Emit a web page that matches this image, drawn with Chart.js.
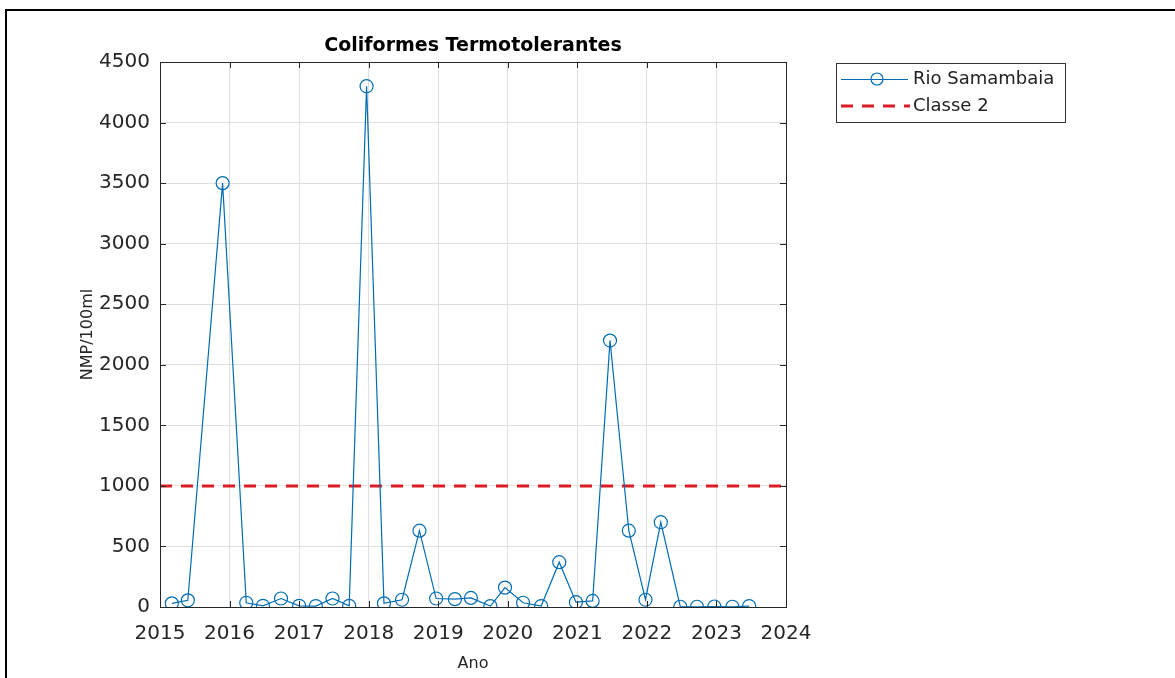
<!DOCTYPE html>
<html>
<head>
<meta charset="utf-8">
<script src="https://cdn.jsdelivr.net/npm/chart.js@4"></script>
<style>
  html, body { margin: 0; padding: 0; background: #fff; overflow: hidden; }
  #wrap { position: relative; width: 1175px; height: 678px; }
  #frame { position: absolute; left: 5px; top: 9px; width: 1300px; height: 800px;
           border-left: 2px solid #000; border-top: 2px solid #000; pointer-events: none; }
  canvas { position: absolute; left: 0; top: 0; }
</style>
</head>
<body>
<div id="wrap">
  <canvas id="coliChart" width="1175" height="678"></canvas>
  <div id="frame"></div>
</div>
<script>
// sample dates (decimal years) and NMP/100ml readings
const sampleDates = [2015.17, 2015.40, 2015.90, 2016.24, 2016.48, 2016.74, 2017.00, 2017.24,
  2017.48, 2017.72, 2017.97, 2018.22, 2018.48, 2018.73, 2018.97, 2019.24, 2019.47, 2019.75,
  2019.96, 2020.22, 2020.48, 2020.74, 2020.98, 2021.22, 2021.47, 2021.74, 2021.98, 2022.20,
  2022.48, 2022.72, 2022.97, 2023.23, 2023.47];
const coliValues = [30, 55, 3500, 35, 10, 70, 10, 8, 70, 10, 4300, 30, 60, 630, 70, 65, 75, 8,
  160, 35, 8, 370, 40, 50, 2200, 630, 60, 700, 2, 2, 4, 2, 8];
const classe2Limit = 1000;
const yearTicks = [2015, 2016, 2017, 2018, 2019, 2020, 2021, 2022, 2023, 2024];
const seriesNames = ['Rio Samambaia', 'Classe 2'];

const blue = 'rgb(0,108,180)';
const red = 'rgb(222,28,36)';
const font = 'DejaVu Sans';

const boxPlugin = {
  id: 'matlabBox',
  afterDraw(chart) {
    const {ctx, chartArea: a} = chart;
    const xs = chart.scales.x, ys = chart.scales.y;
    ctx.save();
    ctx.strokeStyle = '#262626';
    ctx.lineWidth = 1;
    ctx.strokeRect(Math.round(a.left) + 0.5, Math.round(a.top) + 0.5,
      Math.round(a.right - a.left), Math.round(a.bottom - a.top));
    ctx.beginPath();
    xs.ticks.forEach(t => {
      const px = Math.round(xs.getPixelForValue(t.value)) + 0.5;
      ctx.moveTo(px, a.bottom); ctx.lineTo(px, a.bottom - 6);
      ctx.moveTo(px, a.top); ctx.lineTo(px, a.top + 6);
    });
    ys.ticks.forEach(t => {
      const py = Math.round(ys.getPixelForValue(t.value)) + 0.5;
      ctx.moveTo(a.left, py); ctx.lineTo(a.left + 6, py);
      ctx.moveTo(a.right, py); ctx.lineTo(a.right - 6, py);
    });
    ctx.stroke();

    // title
    ctx.fillStyle = '#000';
    ctx.font = 'bold 19px "' + font + '"';
    ctx.textAlign = 'center';
    ctx.textBaseline = 'middle';
    ctx.fillText('Coliformes Termotolerantes', (a.left + a.right) / 2, 46);

    // legend
    const lx = 836, ly = 63, lw = 229, lh = 59;
    ctx.strokeStyle = '#333';
    ctx.strokeRect(lx + 0.5, ly + 0.5, lw, lh);
    ctx.font = '18px "' + font + '"';
    ctx.textAlign = 'left';
    ctx.fillStyle = '#222';
    const r1 = 79, r2 = 106;
    ctx.strokeStyle = blue; ctx.lineWidth = 1.2;
    ctx.beginPath(); ctx.moveTo(841, r1 + 0.5); ctx.lineTo(908, r1 + 0.5); ctx.stroke();
    ctx.beginPath(); ctx.arc(877, r1, 6, 0, Math.PI * 2); ctx.stroke();
    ctx.fillText(seriesNames[0], 913, r1);
    ctx.strokeStyle = red; ctx.lineWidth = 3; ctx.setLineDash([12, 9]);
    ctx.beginPath(); ctx.moveTo(841, r2); ctx.lineTo(910, r2); ctx.stroke();
    ctx.setLineDash([]);
    ctx.fillText(seriesNames[1], 913, r2);
    ctx.restore();
  }
};

const ctx1 = document.getElementById('coliChart').getContext('2d');
const coliChart = new Chart(ctx1, {
  type: 'line',
  data: {
    datasets: [{
      label: seriesNames[0],
      data: sampleDates.map((d, i) => ({x: d, y: coliValues[i]})),
      borderColor: blue,
      borderWidth: 1.2,
      pointRadius: 6.5,
      pointHoverRadius: 6.5,
      pointBorderWidth: 1.2,
      pointBorderColor: blue,
      pointBackgroundColor: 'transparent',
      tension: 0,
    }, {
      label: seriesNames[1],
      data: [{x: yearTicks[0], y: classe2Limit}, {x: yearTicks[yearTicks.length - 1], y: classe2Limit}],
      borderColor: red,
      borderWidth: 3,
      borderDash: [12, 9],
      pointRadius: 0,
      tension: 0,
    }],
  },
  options: {
    responsive: false,
    animation: false,
    layout: {padding: {left: 78, top: 62, right: 389, bottom: 0}},
    plugins: {legend: {display: false}, title: {display: false}, tooltip: {enabled: false}},
    scales: {
      x: {
        type: 'linear',
        min: 2015,
        max: 2024,
        afterFit: s => { s.height = 71; },
        afterBuildTicks: s => { s.ticks = yearTicks.map(v => ({value: v})); },
        grid: {color: 'rgb(223,223,223)', drawTicks: false},
        border: {display: false},
        ticks: {color: '#262626', padding: 15, font: {family: font, size: 20},
          callback: v => String(v)},
        title: {display: true, text: 'Ano', color: '#262626', padding: {top: 0, bottom: 5},
          font: {family: font, size: 16}},
      },
      y: {
        min: 0,
        max: 4500,
        afterFit: s => { s.width = 82; },
        grid: {color: 'rgb(223,223,223)', drawTicks: false},
        border: {display: false},
        ticks: {stepSize: 500, color: '#262626', padding: 10, font: {family: font, size: 20},
          callback: v => String(v)},
        title: {display: true, text: 'NMP/100ml', color: '#262626', padding: {top: 0, bottom: 0},
          font: {family: font, size: 16}},
      },
    },
  },
  plugins: [boxPlugin],
});
</script>
</body>
</html>
